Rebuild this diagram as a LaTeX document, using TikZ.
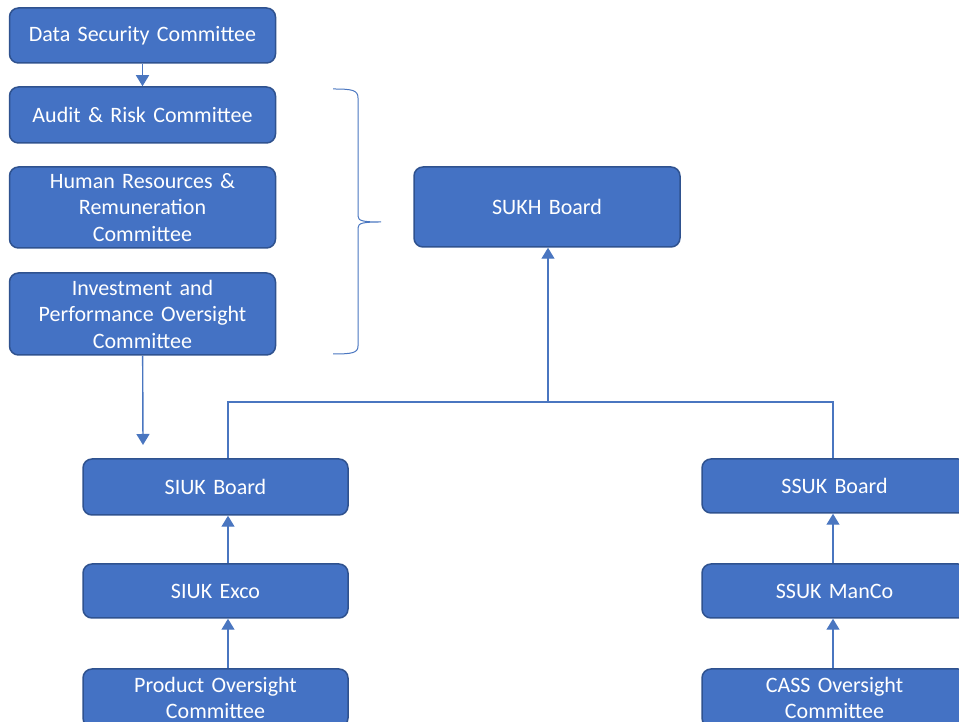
\documentclass[tikz,border=0pt]{standalone}
\usepackage{fontspec}
\setmainfont{Carlito}
\usetikzlibrary{arrows.meta}
\definecolor{boxblue}{HTML}{4472C4}
\definecolor{boxedge}{HTML}{2F528F}
\definecolor{linkblue}{HTML}{4A76C0}

\begin{document}
\begin{tikzpicture}[x=1pt,y=1pt,line width=1.5pt]
\tikzset{box/.style = {shape=rectangle, rounded corners=9pt, draw=boxedge, fill=boxblue, text=white, line width=1.5pt, minimum width=266pt, text width=255pt, align=center, inner sep=0pt, font=\fontsize{22}{26.5}\selectfont}}
\tikzset{link/.style = {draw=linkblue, line width=1.4pt}}
\tikzset{arrow/.style = {link, -{Triangle[width=13pt,length=11pt]}}}

\useasboundingbox (0,0) rectangle (959,722);
\clip (0,0) rectangle (959,722);

%boxes
\node[box, minimum height=55pt] (dsc) at (142.5,686.5) {Data Security Committee};
\node[box, minimum height=56pt] (arc) at (142.5,607) {Audit \& Risk Committee};
\node[box, minimum height=81pt] (hrc) at (142.5,514.5) {Human Resources \&\\ Remuneration\\ Committee};
\node[box, minimum height=82pt] (ipoc) at (142.5,408) {Investment and\\ Performance Oversight\\ Committee};
\node[box, minimum height=80pt] (sukh) at (547,515) {SUKH Board};

\node[box, minimum height=56pt, minimum width=265pt] (siuk) at (215.5,235) {SIUK Board};
\node[box, minimum height=54pt, minimum width=265pt] (siukexco) at (215.5,131) {SIUK Exco};
\node[box, minimum height=58pt, minimum width=265pt] (poc) at (215.5,24) {Product Oversight\\ Committee};

\node[box, minimum height=54pt, minimum width=265pt] (ssuk) at (834.5,236) {SSUK Board};
\node[box, minimum height=54pt, minimum width=265pt] (ssukmanco) at (834.5,131) {SSUK ManCo};
\node[box, minimum height=58pt, minimum width=265pt] (cass) at (834.5,24) {CASS Oversight\\ Committee};

\coordinate (ipocend) at (143,277);
\coordinate (bus) at (548,320);

%links
\draw[arrow] (dsc) -- (arc);
\draw[arrow] (ipoc) -- (ipocend);

\draw[link] ([xshift=12.5pt]siuk.north) |- (bus) -| ([xshift=-1.5pt]ssuk.north);
\draw[arrow] (bus) -- (bus |- sukh.south);

\draw[arrow] ([xshift=12.5pt]siukexco.north) -- ([xshift=12.5pt]siuk.south);
\draw[arrow] ([xshift=12.5pt]poc.north) -- ([xshift=12.5pt]siukexco.south);
\draw[arrow] ([xshift=-1.5pt]ssukmanco.north) -- ([xshift=-1.5pt]ssuk.south);
\draw[arrow] ([xshift=-1.5pt]cass.north) -- ([xshift=-1.5pt]ssukmanco.south);

%brace
\draw[link, line width=1pt] (333,633) .. controls (352,633) and (358,632) .. (358,624) -- (358,506)
  .. controls (358,501) and (363,500) .. (381,500) .. controls (363,500) and (358,499) .. (358,494)
  -- (358,376) .. controls (358,369) and (352,368) .. (333,368);

\end{tikzpicture}
\end{document}
